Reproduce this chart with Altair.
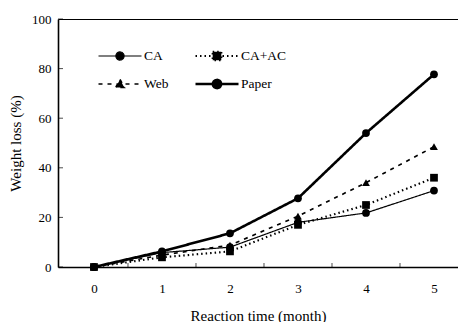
import altair as alt
import pandas as pd

months = [0, 1, 2, 3, 4, 5]
series_names = ["CA", "CA+AC", "Web", "Paper"]
markers = ["circle", "square", "triangle-up", "circle"]
ca = [0, 5.8, 8.0, 18.0, 21.8, 30.8]
ca_ac = [0, 3.9, 6.3, 17.0, 25.0, 36.0]
web = [0, 4.8, 8.8, 20.5, 34.0, 48.5]
paper = [0, 6.3, 13.6, 27.7, 54.0, 77.7]
y_ticks = [0, 20, 40, 60, 80, 100]
x_minor_ticks = [0.5, 1.5, 2.5, 3.5, 4.5]

rows = []
for name, mk, vals in zip(series_names, markers, [ca, ca_ac, web, paper]):
    for m, v in zip(months, vals):
        rows.append({"month": m, "loss": v, "series": name, "marker": mk})
df = pd.DataFrame(rows)

FONT = "Liberation Serif"
W, H = 400, 248

xscale = alt.Scale(domain=[-0.529, 5.353], nice=False, zero=False)
yscale = alt.Scale(domain=[0, 100], nice=False)

# legend is filled column by column: this order gives rows CA | CA+AC, Web | Paper
legend_order = ["CA", "Web", "CA+AC", "Paper"]
dash_map = {"CA": [1, 0], "CA+AC": [1.5, 3], "Web": [4, 5], "Paper": [1, 0]}
width_map = {"CA": 1.2, "CA+AC": 1.6, "Web": 2.6, "Paper": 2.4}

circ = "M-0.19,0A0.19,0.19,0,1,1,0.19,0A0.19,0.19,0,1,1,-0.19,0Z"
sq = "M-0.2,-0.2H0.2V0.2H-0.2Z"
tri = "M0,-0.21L0.2,0.16H-0.2Z"
line_part = "M-1,0H1"
sym_map = {
    "CA": line_part + circ,
    "CA+AC": line_part + sq,
    "Web": line_part + tri,
    "Paper": line_part + circ,
}


def js(v):
    if isinstance(v, str):
        return "'" + v + "'"
    if isinstance(v, list):
        return "[" + ",".join(str(x) for x in v) + "]"
    return str(v)


def per_entry(mapping):
    keys = list(mapping.keys())
    expr = js(mapping[keys[-1]])
    for k in reversed(keys[:-1]):
        expr = f"datum.value === '{k}' ? {js(mapping[k])} : ({expr})"
    return {"expr": expr}


legend = alt.Legend(
    title=None,
    orient="none",
    legendX=39,
    legendY=29,
    columns=2,
    columnPadding=25,
    rowPadding=12,
    clipHeight=16,
    symbolSize=1849,
    symbolType=per_entry(sym_map),
    symbolDash=per_entry(dash_map),
    symbolStrokeWidth=per_entry(width_map),
    symbolFillColor="black",
    symbolStrokeColor="black",
    symbolOpacity=1,
    labelFont=FONT,
    labelFontSize=13.5,
    labelColor="black",
    labelOffset=1,
    padding=0,
)

base = alt.Chart(df)

lines = base.mark_line().encode(
    x=alt.X(
        "month:Q",
        scale=xscale,
        axis=alt.Axis(
            values=months,
            format="d",
            ticks=False,
            grid=False,
            title="Reaction time (month)",
            labelFont=FONT,
            labelFontSize=13,
            labelColor="black",
            labelPadding=15,
            titleFont=FONT,
            titleFontSize=15,
            titleFontWeight="normal",
            titleColor="black",
            titlePadding=13,
            domainColor="black",
            domainWidth=1.6,
        ),
    ),
    y=alt.Y(
        "loss:Q",
        scale=yscale,
        axis=alt.Axis(
            values=y_ticks,
            ticks=False,
            grid=False,
            title="Weight loss (%)",
            labelFont=FONT,
            labelFontSize=13,
            labelColor="black",
            labelPadding=7,
            titleFont=FONT,
            titleFontSize=15,
            titleFontWeight="normal",
            titleColor="black",
            titlePadding=8,
            domainColor="black",
            domainWidth=1.6,
        ),
    ),
    color=alt.Color(
        "series:N",
        scale=alt.Scale(domain=legend_order, range=["black"] * 4),
        legend=legend,
    ),
    strokeDash=alt.StrokeDash(
        "series:N",
        scale=alt.Scale(domain=legend_order, range=[dash_map[k] for k in legend_order]),
        legend=None,
    ),
    strokeWidth=alt.StrokeWidth(
        "series:N",
        scale=alt.Scale(domain=legend_order, range=[width_map[k] for k in legend_order]),
        legend=None,
    ),
)

points = base.mark_point(filled=True, color="black", size=60, opacity=1).encode(
    x=alt.X("month:Q", scale=xscale, axis=None),
    y=alt.Y("loss:Q", scale=yscale),
    shape=alt.Shape("marker:N", scale=None, legend=None),
)

xt = pd.DataFrame({"xt": x_minor_ticks})
xticks = alt.Chart(xt).mark_tick(color="black", thickness=1, size=4).encode(
    x=alt.X(
        "xt:Q",
        scale=xscale,
        axis=alt.Axis(
            orient="top",
            labels=False,
            ticks=False,
            grid=False,
            title=None,
            domainColor="black",
            domainWidth=1,
        ),
    ),
    y=alt.value(H - 2),
)
yt = pd.DataFrame({"yt": y_ticks})
yticks = alt.Chart(yt).mark_tick(color="black", thickness=1, size=5).encode(
    y=alt.Y("yt:Q", scale=yscale), x=alt.value(2.5)
)

chart = (
    alt.layer(lines, points, xticks, yticks)
    .resolve_axis(x="independent")
    .properties(
        width=W,
        height=H,
        autosize=alt.AutoSizeParams(type="none"),
        padding={"left": 50, "top": 11, "right": 0, "bottom": 55},
    )
    .configure_view(strokeWidth=0)
    .configure(background="white")
)

chart.save("out.html", embed_options={"renderer": "svg", "actions": False})
